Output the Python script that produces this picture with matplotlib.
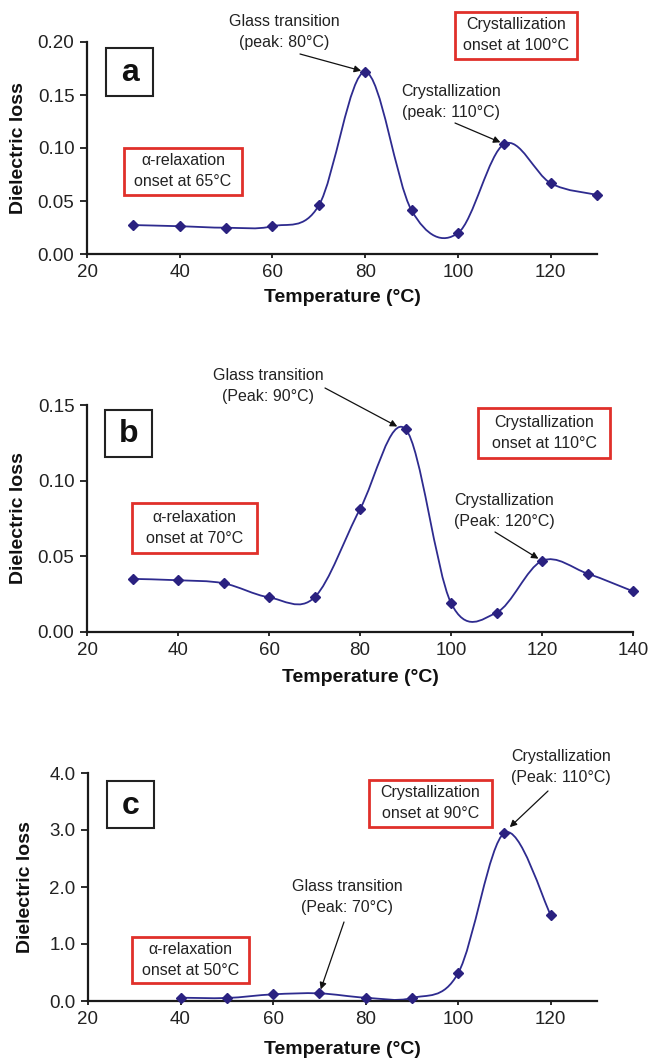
import numpy as np
import matplotlib
matplotlib.use('Agg')
import matplotlib.pyplot as plt
from matplotlib.path import Path
from matplotlib.patches import PathPatch, Rectangle

plt.rcParams['font.family'] = ['Liberation Sans', 'DejaVu Sans']

# Data
temp_a = [30, 40, 50, 60, 70, 80, 90, 100, 110, 120, 130]
loss_a = [0.0273, 0.0262, 0.0248, 0.0262, 0.0458, 0.1718, 0.0412, 0.0197, 0.1038, 0.0668, 0.0558]

temp_b = [30, 40, 50, 60, 70, 80, 90, 100, 110, 120, 130, 140]
loss_b = [0.0351, 0.0342, 0.0322, 0.0229, 0.0229, 0.0812, 0.1341, 0.0192, 0.0128, 0.0470, 0.0386, 0.0269]

temp_c = [40, 50, 60, 70, 80, 90, 100, 110, 120]
loss_c = [0.058, 0.053, 0.117, 0.134, 0.058, 0.053, 0.49, 2.95, 1.51]

W, H = 649, 1060
LINE = '#2E2B8F'
MARK = '#2A2180'
RED = '#E0302A'
NOTE_FS = 11.5
NOTE_LS = 1.5


def fx(x):
    return x / W


def fy(y):
    return 1 - y / H


def smooth_path(xs, ys):
    # Excel style smoothed line: Catmull-Rom turned into cubic beziers
    p = np.column_stack([xs, ys]).astype(float)
    n = len(p)
    verts = [p[0]]
    codes = [Path.MOVETO]
    for i in range(n - 1):
        p0 = p[i - 1] if i > 0 else p[i]
        p1 = p[i]
        p2 = p[i + 1]
        p3 = p[i + 2] if i + 2 < n else p[i + 1]
        verts += [p1 + (p2 - p0) / 6, p2 - (p3 - p1) / 6, p2]
        codes += [Path.CURVE4] * 3
    return Path(verts, codes)


def make_panel(fig, box, xs, ys, xlim, xticks, ylim, yticks, yfmt):
    l, t, r, b = box
    ax = fig.add_axes([fx(l), fy(b), fx(r) - fx(l), fy(t) - fy(b)])
    ax.add_patch(PathPatch(smooth_path(xs, ys), fill=False, ec=LINE, lw=1.3, zorder=2))
    ax.plot(xs, ys, ls='none', marker='D', ms=5.5, color=MARK, zorder=3, clip_on=False)
    ax.set_xlim(*xlim)
    ax.set_ylim(*ylim)
    ax.set_xticks(xticks)
    ax.set_yticks(yticks)
    ax.set_yticklabels([yfmt % v for v in yticks])
    for s in ['top', 'right']:
        ax.spines[s].set_visible(False)
    for s in ['left', 'bottom']:
        ax.spines[s].set_linewidth(1.6)
        ax.spines[s].set_color('#1a1a1a')
    ax.tick_params(axis='both', labelsize=13.5, width=1.3, color='#1a1a1a', labelcolor='#222222')
    ax.tick_params(axis='y', length=5, pad=4)
    ax.tick_params(axis='x', length=3, pad=4)
    ax.patch.set_alpha(0)
    return ax


def red_box(fig, l, t, r, b, text):
    fig.add_artist(Rectangle((fx(l), fy(b)), fx(r) - fx(l), fy(t) - fy(b),
                             transform=fig.transFigure, fill=False, ec=RED, lw=2))
    fig.text(fx((l + r) / 2), fy((t + b) / 2), text, ha='center', va='center',
             fontsize=NOTE_FS, color='#222222', linespacing=NOTE_LS)


def letter_box(fig, l, t, r, b, letter):
    fig.add_artist(Rectangle((fx(l), fy(b)), fx(r) - fx(l), fy(t) - fy(b),
                             transform=fig.transFigure, fill=False, ec='#222222', lw=1.5))
    fig.text(fx((l + r) / 2), fy((t + b) / 2 + 1), letter, ha='center', va='center',
             fontsize=23, fontweight='bold', color='#111111')


def note(fig, ax, text, cx, cy, tail, xy):
    fig.text(fx(cx), fy(cy), text, ha='center', va='center', fontsize=NOTE_FS,
             color='#222222', linespacing=NOTE_LS)
    ax.annotate('', xy=xy, xycoords='data', xytext=(tail[0], H - tail[1]),
                textcoords='figure pixels',
                arrowprops=dict(arrowstyle='-|>', color='#111111', lw=0.9,
                                mutation_scale=10, shrinkA=0, shrinkB=3))


fig = plt.figure(figsize=(W / 100, H / 100), dpi=100)

# panel a
ax_a = make_panel(fig, (87, 42, 597, 254), temp_a, loss_a, (20, 130),
                  [20, 40, 60, 80, 100, 120], (0, 0.20),
                  [0, 0.05, 0.10, 0.15, 0.20], '%.2f')
letter_box(fig, 106, 48, 153, 96, 'a')
note(fig, ax_a, 'Glass transition\n(peak: 80°C)', 284, 32, (300, 54), (80, 0.1718))
note(fig, ax_a, 'Crystallization\n(peak: 110°C)', 451, 102, (455, 123), (110, 0.1038))
red_box(fig, 455, 12, 577, 59, 'Crystallization\nonset at 100°C')
red_box(fig, 124, 148, 242, 195, 'α-relaxation\nonset at 65°C')
fig.text(fx(19), fy(148), 'Dielectric loss', rotation=90, ha='center', va='center',
         fontsize=14, fontweight='bold', color='#111111')
fig.text(fx(342), fy(298), 'Temperature (°C)', ha='center', va='center',
         fontsize=14, fontweight='bold', color='#111111')

# panel b
ax_b = make_panel(fig, (87, 405, 633, 632), temp_b, loss_b, (20, 140),
                  [20, 40, 60, 80, 100, 120, 140], (0, 0.15),
                  [0, 0.05, 0.10, 0.15], '%.2f')
letter_box(fig, 105, 410, 152, 457, 'b')
note(fig, ax_b, 'Glass transition\n(Peak: 90°C)', 268, 386, (325, 388), (89, 0.1345))
note(fig, ax_b, 'Crystallization\n(Peak: 120°C)', 504, 511, (495, 532), (120, 0.047))
red_box(fig, 478, 408, 610, 458, 'Crystallization\nonset at 110°C')
red_box(fig, 132, 503, 257, 553, 'α-relaxation\nonset at 70°C')
fig.text(fx(19), fy(518), 'Dielectric loss', rotation=90, ha='center', va='center',
         fontsize=14, fontweight='bold', color='#111111')
fig.text(fx(360), fy(678), 'Temperature (°C)', ha='center', va='center',
         fontsize=14, fontweight='bold', color='#111111')

# panel c
ax_c = make_panel(fig, (88, 773, 597, 1001), temp_c, loss_c, (20, 130),
                  [20, 40, 60, 80, 100, 120], (0, 4.0),
                  [0, 1.0, 2.0, 3.0, 4.0], '%.1f')
letter_box(fig, 107, 781, 154, 828, 'c')
note(fig, ax_c, 'Crystallization\n(Peak: 110°C)', 561, 767, (548, 791), (110.5, 3.0))
note(fig, ax_c, 'Glass transition\n(Peak: 70°C)', 347, 897, (344, 922), (70, 0.134))
red_box(fig, 369, 780, 492, 827, 'Crystallization\nonset at 90°C')
red_box(fig, 132, 937, 249, 983, 'α-relaxation\nonset at 50°C')
fig.text(fx(26), fy(887), 'Dielectric loss', rotation=90, ha='center', va='center',
         fontsize=14, fontweight='bold', color='#111111')
fig.text(fx(342), fy(1050), 'Temperature (°C)', ha='center', va='center',
         fontsize=14, fontweight='bold', color='#111111')

fig.savefig('out.png', dpi=100)
